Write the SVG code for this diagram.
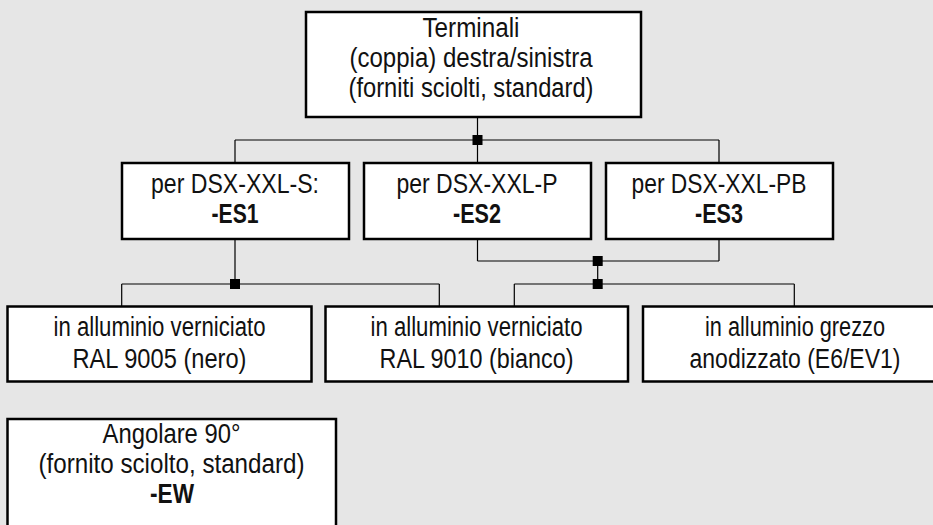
<svg xmlns="http://www.w3.org/2000/svg" width="933" height="525" viewBox="0 0 933 525">
<style>
.bg{fill:#e6e6e6}
.box{fill:#ffffff;stroke:#000;stroke-width:2.5}
.ln{stroke:#000;stroke-width:1.2;fill:none}
.sq{fill:#000}
text{font-family:"Liberation Sans",Arial,sans-serif;font-size:27px;fill:#111;text-anchor:middle}
.b{font-weight:bold}
</style>
<rect class="bg" x="0" y="0" width="933" height="525"/>
<g id="connectors">
<path class="ln" d="M477.5 117V163M235 140H719M235 140V163M719 140V163"/>
<path class="ln" d="M235 239V284M121.7 284H439.3M121.7 284V306M439.3 284V306"/>
<path class="ln" d="M477.5 239V261M719 239V261M477.5 261H719M597.7 261V284M514.3 284H794.3M514.3 284V306M794.3 284V306"/>
<rect class="sq" x="472.5" y="135" width="10" height="10"/>
<rect class="sq" x="230" y="279" width="10" height="10"/>
<rect class="sq" x="592.7" y="256" width="10" height="10"/>
<rect class="sq" x="592.7" y="279" width="10" height="10"/>
</g>
<g id="n-terminali">
<rect class="box" x="306" y="12" width="335" height="105"/>
<text x="471" y="37" textLength="97" lengthAdjust="spacingAndGlyphs">Terminali</text>
<text x="471" y="67" textLength="243" lengthAdjust="spacingAndGlyphs">(coppia) destra/sinistra</text>
<text x="471" y="97" textLength="245" lengthAdjust="spacingAndGlyphs">(forniti sciolti, standard)</text>
</g>
<g id="n-es1">
<rect class="box" x="122" y="163" width="227" height="76"/>
<text x="235" y="193" textLength="168" lengthAdjust="spacingAndGlyphs">per DSX-XXL-S:</text>
<text class="b" x="235" y="223" textLength="47" lengthAdjust="spacingAndGlyphs">-ES1</text>
</g>
<g id="n-es2">
<rect class="box" x="364" y="163" width="227" height="76"/>
<text x="477" y="193" textLength="161" lengthAdjust="spacingAndGlyphs">per DSX-XXL-P</text>
<text class="b" x="477" y="223" textLength="48" lengthAdjust="spacingAndGlyphs">-ES2</text>
</g>
<g id="n-es3">
<rect class="box" x="606" y="163" width="227" height="76"/>
<text x="719" y="193" textLength="175" lengthAdjust="spacingAndGlyphs">per DSX-XXL-PB</text>
<text class="b" x="719" y="223" textLength="48" lengthAdjust="spacingAndGlyphs">-ES3</text>
</g>
<g id="n-ral9005">
<rect class="box" x="7.5" y="306.5" width="304" height="75"/>
<text x="159.5" y="336" textLength="212" lengthAdjust="spacingAndGlyphs">in alluminio verniciato</text>
<text x="159.5" y="368" textLength="174" lengthAdjust="spacingAndGlyphs">RAL 9005 (nero)</text>
</g>
<g id="n-ral9010">
<rect class="box" x="325.5" y="306.5" width="302.5" height="75"/>
<text x="476.5" y="336" textLength="212" lengthAdjust="spacingAndGlyphs">in alluminio verniciato</text>
<text x="476.5" y="368" textLength="194" lengthAdjust="spacingAndGlyphs">RAL 9010 (bianco)</text>
</g>
<g id="n-grezzo">
<rect class="box" x="643" y="306.5" width="300" height="75"/>
<text x="795" y="336" textLength="180" lengthAdjust="spacingAndGlyphs">in alluminio grezzo</text>
<text x="795" y="368" textLength="211" lengthAdjust="spacingAndGlyphs">anodizzato (E6/EV1)</text>
</g>
<g id="n-ew">
<rect class="box" x="7.5" y="419" width="328.5" height="120"/>
<text x="171.5" y="443" textLength="138" lengthAdjust="spacingAndGlyphs">Angolare 90°</text>
<text x="171.5" y="473" textLength="266" lengthAdjust="spacingAndGlyphs">(fornito sciolto, standard)</text>
<text class="b" x="172" y="503" textLength="44" lengthAdjust="spacingAndGlyphs">-EW</text>
</g>
</svg>
